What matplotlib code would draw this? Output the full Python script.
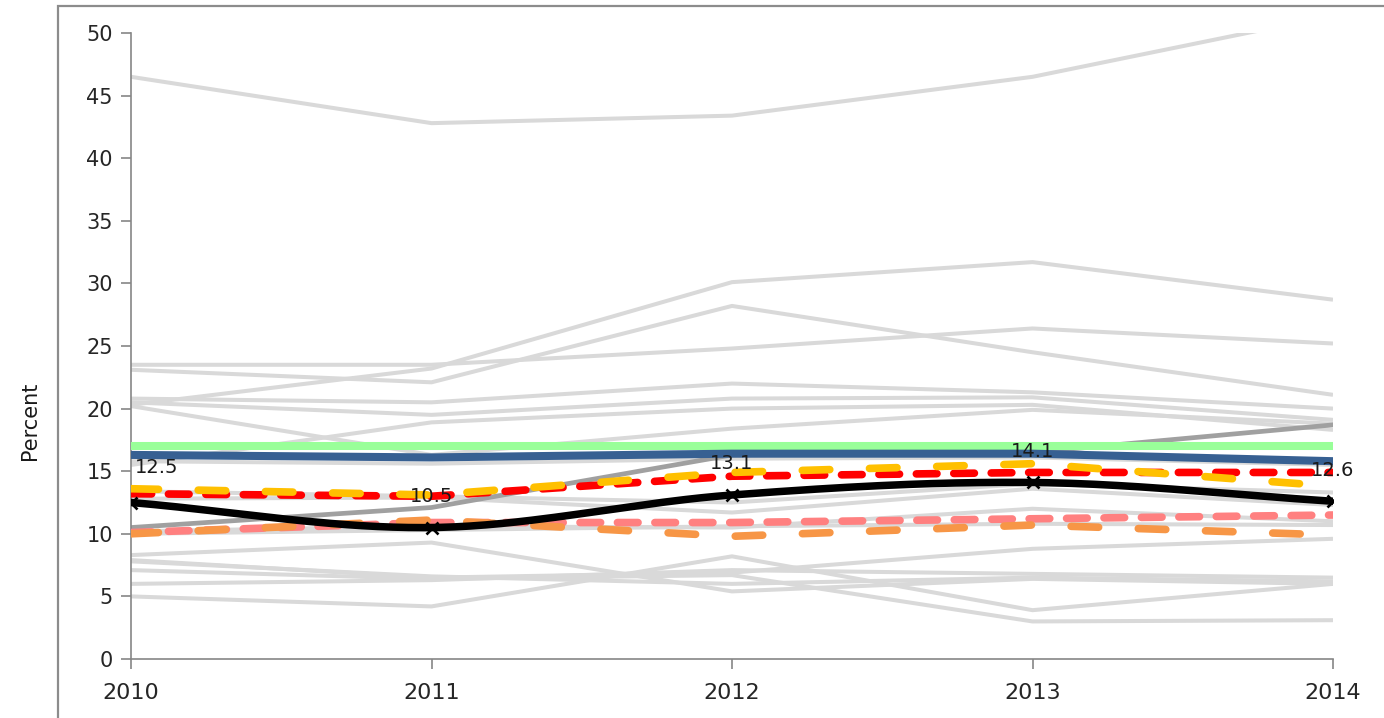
import numpy as np
import matplotlib
matplotlib.use('Agg')
import matplotlib.pyplot as plt
from matplotlib.patches import Rectangle

# ---- data -------------------------------------------------------------
years = [2010, 2011, 2012, 2013, 2014]

# background (other) series, light gray
gray_series = [
  [46.5, 42.8, 43.4, 46.5, 51.4],
  [20.3, 23.2, 30.1, 31.7, 28.7],
  [23.1, 22.1, 28.2, 24.5, 21.1],
  [23.5, 23.5, 24.8, 26.4, 25.2],
  [20.8, 20.5, 22.0, 21.3, 20.0],
  [20.5, 19.5, 20.8, 20.9, 19.1],
  [20.2, 16.3, 18.4, 19.9, 18.8],
  [15.5, 18.9, 20.0, 20.3, 18.3],
  [15.8, 15.6, 16.0, 16.1, 15.5],
  [13.4, 13.0, 12.5, 14.0, 13.3],
  [12.8, 12.9, 11.7, 13.6, 12.3],
  [10.2, 10.6, 10.5, 12.0, 11.0],
  [10.0, 10.3, 10.6, 10.8, 10.7],
  [8.3, 9.3, 5.4, 6.4, 6.0],
  [7.9, 6.5, 6.9, 8.8, 9.6],
  [5.0, 4.2, 8.2, 3.9, 6.0],
  [7.1, 6.4, 6.7, 3.0, 3.1],
  [7.8, 6.6, 6.0, 6.5, 6.2],
  [6.0, 6.3, 7.1, 6.8, 6.5],
]

dark_gray = [10.5, 12.1, 16.3, 16.5, 18.7]
green     = [17.0, 17.0, 17.0, 17.0, 17.0]
blue      = [16.3, 16.1, 16.4, 16.4, 15.8]
yellow    = [13.6, 13.1, 14.9, 15.6, 13.8]
red       = [13.2, 13.0, 14.6, 14.9, 14.9]
pink      = [10.1, 10.9, 10.9, 11.2, 11.5]
orange    = [10.0, 11.1, 9.8, 10.7, 9.9]
black     = [12.5, 10.5, 13.1, 14.1, 12.6]
black_labels = ['12.5', '10.5', '13.1', '14.1', '12.6']


def smooth(x, y, n=40):
  # hermite / catmull-rom smoothing, like the spreadsheet "smoothed line"
  x = np.asarray(x, float); y = np.asarray(y, float)
  m = np.zeros_like(y)
  m[1:-1] = (y[2:] - y[:-2]) / (x[2:] - x[:-2])
  m[0] = (y[1] - y[0]) / (x[1] - x[0])
  m[-1] = (y[-1] - y[-2]) / (x[-1] - x[-2])
  xs, ys = [], []
  for i in range(len(x) - 1):
    h = x[i+1] - x[i]
    t = np.linspace(0, 1, n)
    h00 = 2*t**3 - 3*t**2 + 1
    h10 = t**3 - 2*t**2 + t
    h01 = -2*t**3 + 3*t**2
    h11 = t**3 - t**2
    xs.append(x[i] + t*h)
    ys.append(h00*y[i] + h10*h*m[i] + h01*y[i+1] + h11*h*m[i+1])
  return np.concatenate(xs), np.concatenate(ys)


fig = plt.figure(figsize=(13.84, 7.18), dpi=100)
ax = fig.add_axes([131/1384, 1 - 659/718, (1333 - 131)/1384, (659 - 33)/718])

# outer chart-area frame (partly cropped)
fig.patches.append(Rectangle((58/1384, -0.05), 1.0, 1 - 6/718 + 0.05, transform=fig.transFigure,
                             fill=False, edgecolor='#8c8c8c', linewidth=1.6))

for s in gray_series:
  ax.plot(years, s, color='#d9d9d9', lw=2.9, solid_capstyle='butt', zorder=1)

ax.plot(years, dark_gray, color='#a0a0a0', lw=3.4, zorder=2)
ax.plot(years, green, color='#99ff99', lw=5.8, zorder=3)
ax.plot(years, blue, color='#376092', lw=5.8, zorder=3)

LW = 5.5
ax.plot(years, pink, color='#ff8080', lw=LW, dashes=(2.7, 2.2), dash_capstyle='round', zorder=4)
ax.plot(years, orange, color='#f79646', lw=LW, dashes=(3.6, 5.2), dash_capstyle='round', zorder=4)
ax.plot(years, red, color='#ff0000', lw=LW, dashes=(2.7, 2.2), dash_capstyle='round', zorder=5)
ax.plot(years, yellow, color='#ffc000', lw=LW, dashes=(3.6, 5.2), dash_capstyle='round', zorder=5)

bx, by = smooth(years, black)
ax.plot(bx, by, color='black', lw=5.4, zorder=6)
ax.plot(years, black, ls='none', marker='x', color='black', ms=8.5, mew=1.9, zorder=7)

offsets = [(3, 25), (0, 22), (0, 23), (0, 22), (0, 22)]
for i, (x, y, lab) in enumerate(zip(years, black, black_labels)):
  ha = 'left' if i == 0 else 'center'
  ax.annotate(lab, (x, y), xytext=offsets[i], textcoords='offset points', ha=ha, va='center',
              fontsize=14, color='#1a1a1a', zorder=8, annotation_clip=False)

ax.set_xlim(2010, 2014)
ax.set_ylim(0, 50)
ax.set_xticks(years)
ax.set_xticklabels([str(y) for y in years])
ax.set_yticks(np.arange(0, 51, 5))

for side in ['top', 'right']:
  ax.spines[side].set_visible(False)
for side in ['left', 'bottom']:
  ax.spines[side].set_color('#868686')
  ax.spines[side].set_linewidth(1.2)
ax.tick_params(axis='both', direction='out', length=7, width=1.2, color='#868686',
               labelcolor='#262626')
ax.tick_params(axis='x', pad=10, labelsize=16)
ax.tick_params(axis='y', pad=6, labelsize=15)

ax.set_ylabel('Percent', fontsize=15, color='#1a1a1a')
ax.yaxis.set_label_coords(-0.076, 0.38)

fig.savefig('out.png', dpi=100)
